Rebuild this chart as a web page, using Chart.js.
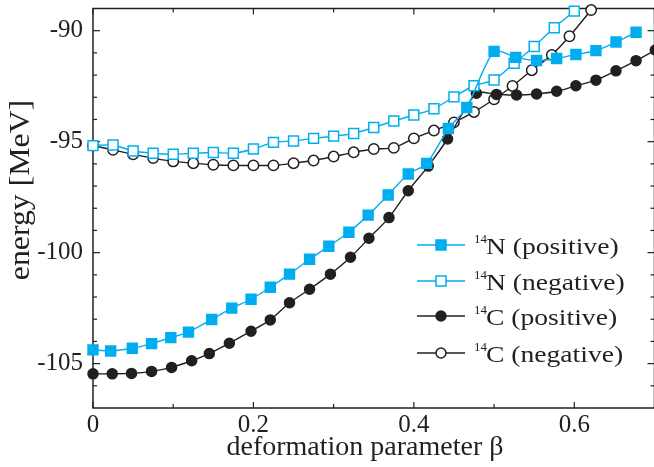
<!DOCTYPE html>
<html>
<head>
<meta charset="utf-8">
<script src="https://cdn.jsdelivr.net/npm/chart.js@4.4.1/dist/chart.umd.min.js"></script>
<style>
  html, body { margin: 0; padding: 0; background: #fff; overflow: hidden; }
  #wrap { position: absolute; left: 0; top: 0; width: 663px; height: 467px; }
</style>
</head>
<body>
<div id="wrap"><canvas id="chart"></canvas></div>
<script>
'use strict';

/* ---- data (beta, energy in MeV) ---- */
var N_POS_BETA = [0, 0.022, 0.049, 0.073, 0.097, 0.119, 0.148, 0.173, 0.197, 0.221, 0.245, 0.270, 0.294, 0.319,
                  0.343, 0.368, 0.393, 0.416, 0.443, 0.466, 0.500, 0.527, 0.553, 0.578, 0.602, 0.627, 0.652, 0.677];
var N_POS_E    = [-104.38, -104.43, -104.31, -104.10, -103.83, -103.58, -103.01, -102.50, -102.10, -101.56, -100.97,
                  -100.30, -99.71, -99.08, -98.31, -97.40, -96.46, -95.98, -94.41, -93.46, -90.93, -91.20, -91.34,
                  -91.25, -91.07, -90.90, -90.51, -90.07];

var N_NEG_BETA = [0, 0.025, 0.05, 0.075, 0.1, 0.125, 0.15, 0.175, 0.2, 0.225, 0.25, 0.275, 0.3, 0.325, 0.35,
                  0.375, 0.4, 0.425, 0.45, 0.475, 0.5, 0.525, 0.55, 0.575, 0.6];
var N_NEG_E    = [-95.18, -95.15, -95.42, -95.52, -95.57, -95.52, -95.49, -95.52, -95.33, -95.03, -94.97, -94.85,
                  -94.75, -94.63, -94.36, -94.07, -93.80, -93.52, -92.98, -92.48, -92.22, -91.47, -90.71, -89.87,
                  -89.12];

var C_POS_BETA = [0, 0.024, 0.048, 0.073, 0.098, 0.123, 0.145, 0.170, 0.197, 0.221, 0.245, 0.270, 0.296, 0.321,
                  0.344, 0.369, 0.393, 0.418, 0.442, 0.478, 0.503, 0.528, 0.553, 0.578, 0.602, 0.627, 0.652, 0.677,
                  0.701];
var C_POS_E    = [-105.46, -105.46, -105.44, -105.35, -105.17, -104.87, -104.55, -104.08, -103.54, -103.03, -102.26,
                  -101.65, -100.97, -100.21, -99.35, -98.42, -97.21, -96.10, -94.88, -92.82, -92.87, -92.90, -92.85,
                  -92.73, -92.48, -92.23, -91.81, -91.35, -90.87];

var C_NEG_BETA = [0, 0.025, 0.05, 0.075, 0.1, 0.125, 0.15, 0.175, 0.2, 0.225, 0.25, 0.275, 0.3, 0.325, 0.35,
                  0.375, 0.4, 0.425, 0.45, 0.475, 0.5, 0.523, 0.547, 0.572, 0.594, 0.621];
var C_NEG_E    = [-95.18, -95.37, -95.57, -95.74, -95.89, -95.97, -96.04, -96.07, -96.07, -96.07, -95.97, -95.85,
                  -95.67, -95.48, -95.33, -95.28, -94.85, -94.50, -94.13, -93.66, -93.09, -92.49, -91.78, -91.09,
                  -90.25, -89.07];

var X_MAJOR = [0, 0.2, 0.4, 0.6];
var X_MINOR = [0.1, 0.3, 0.5, 0.7];
var Y_MAJOR = [-105, -100, -95, -90];
var Y_MINOR = [-106, -104, -103, -102, -101, -99, -98, -97, -96, -94, -93, -92, -91];

var LEGEND_SUP  = ['14', '14', '14', '14'];
var LEGEND_TEXT = ['N (positive)', 'N (negative)', 'C (positive)', 'C (negative)'];

var BLUE  = '#00aeef';
var INK   = '#231f20';
var SERIF = '"Liberation Serif", "DejaVu Serif", serif';

function pts(bs, es) {
  return bs.map(function (b, i) { return { x: b, y: es[i] }; });
}

function series(i, bs, es, color, style, filled, radius, order) {
  return {
    label: LEGEND_SUP[i] + LEGEND_TEXT[i],
    data: pts(bs, es),
    borderColor: color, borderWidth: 1.4,
    pointStyle: style, pointRadius: radius, pointHoverRadius: radius,
    pointBackgroundColor: filled ? color : '#fff',
    pointBorderColor: color, pointBorderWidth: 1.5,
    tension: 0.25, fill: false, clip: false, order: order,
    _filled: filled
  };
}

var datasets = [
  series(0, N_POS_BETA, N_POS_E, BLUE, 'rect',   true,  7,   0),
  series(1, N_NEG_BETA, N_NEG_E, BLUE, 'rect',   false, 7,   1),
  series(2, C_POS_BETA, C_POS_E, INK,  'circle', true,  5,   2),
  series(3, C_NEG_BETA, C_NEG_E, INK,  'circle', false, 5.2, 3)
];

/* ── frame with inward ticks on all four sides ── */
var framePlugin = {
  id: 'frame',
  beforeDatasetsDraw: function (chart) {
    var ctx = chart.ctx, a = chart.chartArea, xs = chart.scales.x, ys = chart.scales.y;
    function seg(x1, y1, x2, y2) { ctx.beginPath(); ctx.moveTo(x1, y1); ctx.lineTo(x2, y2); ctx.stroke(); }
    function xt(v, len) { var p = xs.getPixelForValue(v); seg(p, a.bottom, p, a.bottom - len); seg(p, a.top, p, a.top + len); }
    function yt(v, len) { var p = ys.getPixelForValue(v); seg(a.left, p, a.left + len, p); seg(a.right, p, a.right - len, p); }
    ctx.save();
    ctx.strokeStyle = INK;
    ctx.lineWidth = 1.2;
    X_MAJOR.forEach(function (v) { xt(v, 6); });
    X_MINOR.forEach(function (v) { xt(v, 4); });
    Y_MAJOR.forEach(function (v) { yt(v, 7); });
    Y_MINOR.forEach(function (v) { yt(v, 4); });
    ctx.lineWidth = 1.5;
    ctx.strokeRect(a.left, a.top, a.right - a.left, a.bottom - a.top);
    ctx.restore();
  }
};

/* ── axis titles + in-plot legend with superscript mass numbers ── */
var labelPlugin = {
  id: 'labels',
  afterDatasetsDraw: function (chart) {
    var ctx = chart.ctx, a = chart.chartArea;
    ctx.save();
    ctx.fillStyle = INK;
    ctx.textBaseline = 'alphabetic';
    ctx.textAlign = 'center';
    ctx.font = '28px ' + SERIF;
    ctx.fillText('deformation parameter \u03b2', 365, a.bottom + 47);
    ctx.save();
    ctx.translate(29, 190);
    ctx.rotate(-Math.PI / 2);
    ctx.scale(1.06, 1);
    ctx.font = '30px ' + SERIF;
    ctx.fillText('energy [MeV]', 0, 0);
    ctx.restore();

    var x0 = 417, x1 = 465, rowY = [245, 281, 316, 353];
    chart.data.datasets.forEach(function (ds, i) {
      var y = rowY[i], xm = (x0 + x1) / 2;
      ctx.strokeStyle = ds.borderColor; ctx.lineWidth = 1.4;
      ctx.beginPath(); ctx.moveTo(x0, y); ctx.lineTo(x1, y); ctx.stroke();
      ctx.fillStyle = ds._filled ? ds.borderColor : '#fff';
      ctx.lineWidth = 1.5;
      ctx.beginPath();
      if (ds.pointStyle === 'rect') ctx.rect(xm - 5, y - 5, 10, 10);
      else ctx.arc(xm, y, 5, 0, Math.PI * 2);
      ctx.fill(); ctx.stroke();
      ctx.fillStyle = INK;
      ctx.textAlign = 'left';
      ctx.font = '13px ' + SERIF;
      ctx.fillText(LEGEND_SUP[i], 474, y - 2);
      ctx.save();
      ctx.translate(486, y + 9);
      ctx.scale(1.2, 1);
      ctx.font = '23px ' + SERIF;
      ctx.fillText(LEGEND_TEXT[i], 0, 0);
      ctx.restore();
    });
    ctx.restore();
  }
};

new Chart(document.getElementById('chart').getContext('2d'), {
  type: 'line',
  data: { datasets: datasets },
  options: {
    responsive: true, maintainAspectRatio: false, animation: false,
    layout: { padding: { top: 3, right: 2, left: 0, bottom: 0 } },
    plugins: { legend: { display: false }, tooltip: { enabled: false } },
    scales: {
      x: {
        type: 'linear', min: 0, max: 0.7,
        afterBuildTicks: function (s) { s.ticks = X_MAJOR.map(function (v) { return { value: v }; }); },
        afterFit: function (s) { s.height = 59; s.paddingLeft = 0; s.paddingRight = 0; },
        grid: { display: false, drawTicks: false },
        border: { display: false },
        ticks: { color: INK, padding: 2, maxRotation: 0, font: { family: SERIF, size: 25 },
                 callback: function (v) { return v === 0 ? '0' : v.toFixed(1); } }
      },
      y: {
        type: 'linear', min: -107, max: -89,
        afterBuildTicks: function (s) { s.ticks = Y_MAJOR.map(function (v) { return { value: v }; }); },
        afterFit: function (s) { s.width = 93; s.paddingTop = 0; s.paddingBottom = 0; },
        grid: { display: false, drawTicks: false },
        border: { display: false },
        ticks: { color: INK, padding: 10, font: { family: SERIF, size: 25 },
                 callback: function (v) { return String(v); } }
      }
    }
  },
  plugins: [framePlugin, labelPlugin]
});
</script>
</body>
</html>
